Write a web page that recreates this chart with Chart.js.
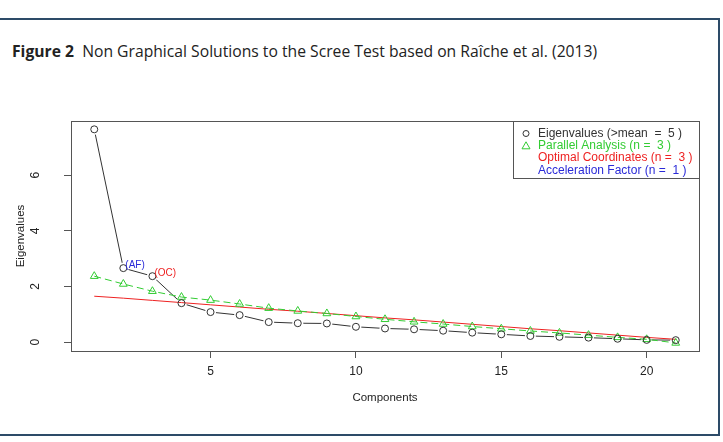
<!DOCTYPE html>
<html>
<head>
<meta charset="utf-8">
<script src="https://cdn.jsdelivr.net/npm/chart.js@4/dist/chart.umd.min.js"></script>
<style>
  html, body { margin: 0; padding: 0; background: #fff; }
  #page { position: relative; width: 723px; height: 442px; overflow: hidden; }
  #frame { position: absolute; left: -4px; top: 18px; width: 720px; height: 414px; border: 2px solid #2d4b68; }
  #title { position: absolute; left: 12px; top: 40px; font-family: "Open Sans", sans-serif; font-size: 15.7px; color: #222; white-space: nowrap; }
  #title b { font-weight: 700; }
  #wrap { position: absolute; left: 0; top: 0; width: 723px; height: 442px; }
</style>
</head>
<body>
<div id="page">
  <div id="frame"></div>
  <div id="title"><b>Figure 2</b>&nbsp; Non Graphical Solutions to the Scree Test based on Raîche et al. (2013)</div>
  <div id="wrap"><canvas id="scree" width="723" height="442"></canvas></div>
</div>
<script>
// ---------- data ----------
const components = [1, 2, 3, 4, 5, 6, 7, 8, 9, 10, 11, 12, 13, 14, 15, 16, 17, 18, 19, 20, 21];
const eigenvalues = [7.65, 2.66, 2.37, 1.40, 1.08, 0.97, 0.72, 0.68, 0.67, 0.55, 0.49, 0.46, 0.41, 0.34, 0.28, 0.22, 0.19, 0.16, 0.12, 0.08, 0.07];
const parallel = [2.37, 2.09, 1.83, 1.62, 1.51, 1.37, 1.22, 1.12, 1.03, 0.92, 0.82, 0.73, 0.65, 0.56, 0.48, 0.40, 0.33, 0.25, 0.17, 0.10, -0.03];
const optimal = [1.65, 1.58, 1.50, 1.42, 1.34, 1.26, 1.18, 1.11, 1.03, 0.95, 0.87, 0.80, 0.72, 0.64, 0.56, 0.48, 0.41, 0.33, 0.25, 0.17, 0.10];
const xTicks = [5, 10, 15, 20];
const yTicks = [0, 2, 4, 6];
const legendLabels = [
  'Eigenvalues (>mean  =  5 )',
  'Parallel Analysis (n =  3 )',
  'Optimal Coordinates (n =  3 )',
  'Acceleration Factor (n =  1 )'
];
// point labels: [component, text]
const marks = [[2, '(AF)'], [3, '(OC)']];

const BLACK = '#333333', GREEN = '#33cc33', RED = '#ee2222', BLUE = '#2a2ad8';
const FONT = '"Liberation Sans", Arial, sans-serif';

const pts = arr => arr.map((v, i) => ({ x: components[i], y: v }));

// ---------- box, R-style vertical y labels, legend, AF/OC labels ----------
const rPlot = {
  id: 'rPlot',
  afterDatasetsDraw(chart) {
    const { ctx, chartArea: a, scales } = chart;
    ctx.save();
    ctx.strokeStyle = '#555';
    ctx.lineWidth = 1;
    ctx.strokeRect(Math.round(a.left) + 0.5, Math.round(a.top) + 0.5, Math.round(a.right - a.left), Math.round(a.bottom - a.top));

    // y tick labels, rotated like R's las=0
    ctx.fillStyle = '#222';
    ctx.font = '12px ' + FONT;
    ctx.textAlign = 'center';
    ctx.textBaseline = 'middle';
    scales.y.ticks.forEach(t => {
      ctx.save();
      ctx.translate(a.left - 35, scales.y.getPixelForValue(t.value));
      ctx.rotate(-Math.PI / 2);
      ctx.fillText(String(t.value), 0, 0);
      ctx.restore();
    });

    // AF / OC annotations
    ctx.font = '10px ' + FONT;
    ctx.textAlign = 'left';
    marks.forEach(([c, txt]) => {
      const i = components.indexOf(c);
      ctx.fillStyle = txt === '(AF)' ? BLUE : RED;
      ctx.fillText(txt, scales.x.getPixelForValue(c) + 2, scales.y.getPixelForValue(eigenvalues[i]) - 3);
    });

    // legend (topright, like R)
    const w = 186, h = 57;
    const lx = Math.round(a.right - w), ly = Math.round(a.top);
    ctx.fillStyle = '#fff';
    ctx.fillRect(lx, ly, w, h);
    ctx.strokeStyle = '#555';
    ctx.strokeRect(lx + 0.5, ly + 0.5, w, h);
    const cols = [BLACK, GREEN, RED, BLUE];
    ctx.font = '12px ' + FONT;
    legendLabels.forEach((t, k) => {
      const y = ly + 12.5 + k * 12.3;
      ctx.fillStyle = cols[k];
      ctx.fillText(t, lx + 25, y);
      ctx.strokeStyle = cols[k];
      if (k === 0) {
        ctx.beginPath(); ctx.arc(lx + 13, y, 3, 0, Math.PI * 2); ctx.stroke();
      } else if (k === 1) {
        ctx.beginPath(); ctx.moveTo(lx + 13, y - 4); ctx.lineTo(lx + 17, y + 3); ctx.lineTo(lx + 9, y + 3); ctx.closePath(); ctx.stroke();
      }
    });
    ctx.restore();
  }
};

new Chart(document.getElementById('scree'), {
  type: 'line',
  data: {
    datasets: [
      // R type="b": line first, then a white halo so the segments stop short of the circles
      { data: pts(eigenvalues), borderColor: BLACK, borderWidth: 1, pointRadius: 0, order: 6 },
      { data: pts(eigenvalues), showLine: false, pointRadius: 5.5, pointBorderWidth: 0,
        pointBackgroundColor: '#fff', pointBorderColor: '#fff', order: 5 },
      { data: pts(optimal), borderColor: RED, borderWidth: 1, pointRadius: 0, order: 4 },
      { data: pts(parallel), borderColor: GREEN, borderWidth: 1, borderDash: [7, 4], pointStyle: 'triangle', pointRadius: 4.5,
        pointBorderColor: GREEN, pointBackgroundColor: 'rgba(255,255,255,0)', pointBorderWidth: 1, order: 3 },
      { data: pts(eigenvalues), showLine: false, pointStyle: 'circle', pointRadius: 3.5,
        pointBorderColor: BLACK, pointBackgroundColor: 'rgba(255,255,255,0)', pointBorderWidth: 1, order: 1 }
    ]
  },
  options: {
    responsive: false,
    animation: false,
    events: [],
    layout: { autoPadding: false, padding: { top: 121, right: 24, left: 0, bottom: 0 } },
    plugins: { legend: { display: false }, tooltip: { enabled: false } },
    scales: {
      x: {
        type: 'linear', min: 0.2, max: 21.8,
        afterBuildTicks: s => { s.ticks = xTicks.map(v => ({ value: v })); },
        afterFit: s => { s.height = 91; },
        border: { display: false },
        grid: { drawOnChartArea: false, drawTicks: true, tickLength: 7, color: '#555' },
        ticks: { color: '#222', font: { family: FONT, size: 12 }, padding: 6, maxRotation: 0 },
        title: { display: true, text: 'Components', color: '#222', font: { family: FONT, size: 11.5 }, padding: { bottom: 37 } }
      },
      y: {
        type: 'linear', min: -0.32, max: 7.95,
        afterBuildTicks: s => { s.ticks = yTicks.map(v => ({ value: v })); },
        afterFit: s => { s.width = 71; },
        border: { display: false },
        grid: { drawOnChartArea: false, drawTicks: true, tickLength: 7, color: '#555' },
        ticks: { display: false },
        title: { display: true, text: 'Eigenvalues', color: '#222', font: { family: FONT, size: 11.5 }, padding: { top: 14 } }
      }
    }
  },
  plugins: [rPlot]
});
</script>
</body>
</html>
